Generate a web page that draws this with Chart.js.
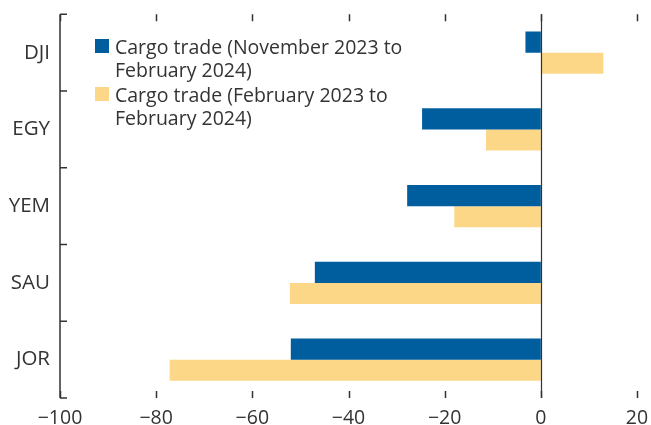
<!DOCTYPE html>
<html>
<head>
<meta charset="utf-8">
<script src="https://cdn.jsdelivr.net/npm/chart.js@4"></script>
<style>
  body { margin: 0; background: #fff; }
  #wrap { position: relative; width: 651px; height: 425px; }
  #legend { position: absolute; left: 95px; top: 35px; font-family: "Open Sans", sans-serif; font-size: 19.5px; line-height: 23.3px; color: #333; }
  .item { position: relative; padding-left: 20px; margin-bottom: 1.4px; white-space: nowrap; }
  .box { position: absolute; left: 0; top: 4px; width: 14px; height: 14px; }
</style>
</head>
<body>
<div id="wrap">
  <canvas id="myChart" width="651" height="425"></canvas>
  <div id="legend"></div>
</div>
<script>
const countries = ['DJI', 'EGY', 'YEM', 'SAU', 'JOR'];
const novToFeb = [-3.2, -24.7, -27.8, -47.0, -52.0];
const febToFeb = [13.0, -11.4, -18.0, -52.2, -77.2];
const seriesNames = [
  ['Cargo trade (November 2023 to', 'February 2024)'],
  ['Cargo trade (February 2023 to', 'February 2024)']
];
const xTicks = [-100, -80, -60, -40, -20, 0, 20];

const blue = '#005E9E';
const yellow = '#FCD788';
const ink = '#333333';

// ticks pointing into the plot, plus the left axis line
const axisMarks = {
  id: 'axisMarks',
  afterDatasetsDraw(chart) {
    const ctx = chart.ctx;
    const area = chart.chartArea;
    const x = chart.scales.x;
    const y = chart.scales.y;
    ctx.save();
    ctx.strokeStyle = ink;
    ctx.lineWidth = 1.5;
    ctx.beginPath();
    ctx.moveTo(area.left, area.top);
    ctx.lineTo(area.left, area.bottom);
    xTicks.forEach(v => {
      const px = Math.round(x.getPixelForValue(v)) + 0.5;
      ctx.moveTo(px, area.top);
      ctx.lineTo(px, area.top + 7);
      ctx.moveTo(px, area.bottom);
      ctx.lineTo(px, area.bottom - 7);
    });
    for (let i = 0; i <= countries.length; i++) {
      const py = i === countries.length ? area.bottom : y.getPixelForValue(i - 0.5);
      ctx.moveTo(area.left, py);
      ctx.lineTo(area.left + 7, py);
    }
    ctx.stroke();
    ctx.lineWidth = 1.2;
    const zx = Math.round(x.getPixelForValue(0)) + 0.5;
    ctx.beginPath();
    ctx.moveTo(zx, area.top);
    ctx.lineTo(zx, area.bottom);
    ctx.stroke();
    ctx.restore();
  }
};

const config = {
  type: 'bar',
  data: {
    labels: countries,
    datasets: [
      { label: seriesNames[0].join(' '), data: novToFeb, backgroundColor: blue },
      { label: seriesNames[1].join(' '), data: febToFeb, backgroundColor: yellow }
    ]
  },
  options: {
    indexAxis: 'y',
    responsive: false,
    animation: false,
    categoryPercentage: 0.55,
    barPercentage: 1.0,
    layout: { padding: { top: 14, right: 14, left: 0, bottom: 0 } },
    plugins: {
      legend: { display: false },
      tooltip: { enabled: false }
    },
    scales: {
      x: {
        min: -100,
        max: 20,
        afterBuildTicks: axis => { axis.ticks = xTicks.map(v => ({ value: v })); },
        afterFit: axis => { axis.height = 27; },
        grid: { display: false },
        border: { display: false },
        ticks: {
          padding: 1,
          color: ink,
          font: { family: 'Open Sans', size: 19.5 },
          callback: v => v < 0 ? '\u2212' + Math.abs(v) : String(v)
        }
      },
      y: {
        afterFit: axis => { axis.width = 60; },
        grid: { display: false },
        border: { display: false },
        ticks: {
          padding: 2,
          color: ink,
          font: { family: 'Open Sans', size: 20.5 }
        }
      }
    }
  },
  plugins: [axisMarks]
};

const myChart = new Chart(document.getElementById('myChart'), config);

const legend = document.getElementById('legend');
config.data.datasets.forEach((ds, i) => {
  const item = document.createElement('div');
  item.className = 'item';
  const box = document.createElement('span');
  box.className = 'box';
  box.style.background = ds.backgroundColor;
  item.appendChild(box);
  seriesNames[i].forEach(line => {
    const t = document.createElement('div');
    t.textContent = line;
    item.appendChild(t);
  });
  legend.appendChild(item);
});
</script>
</body>
</html>
